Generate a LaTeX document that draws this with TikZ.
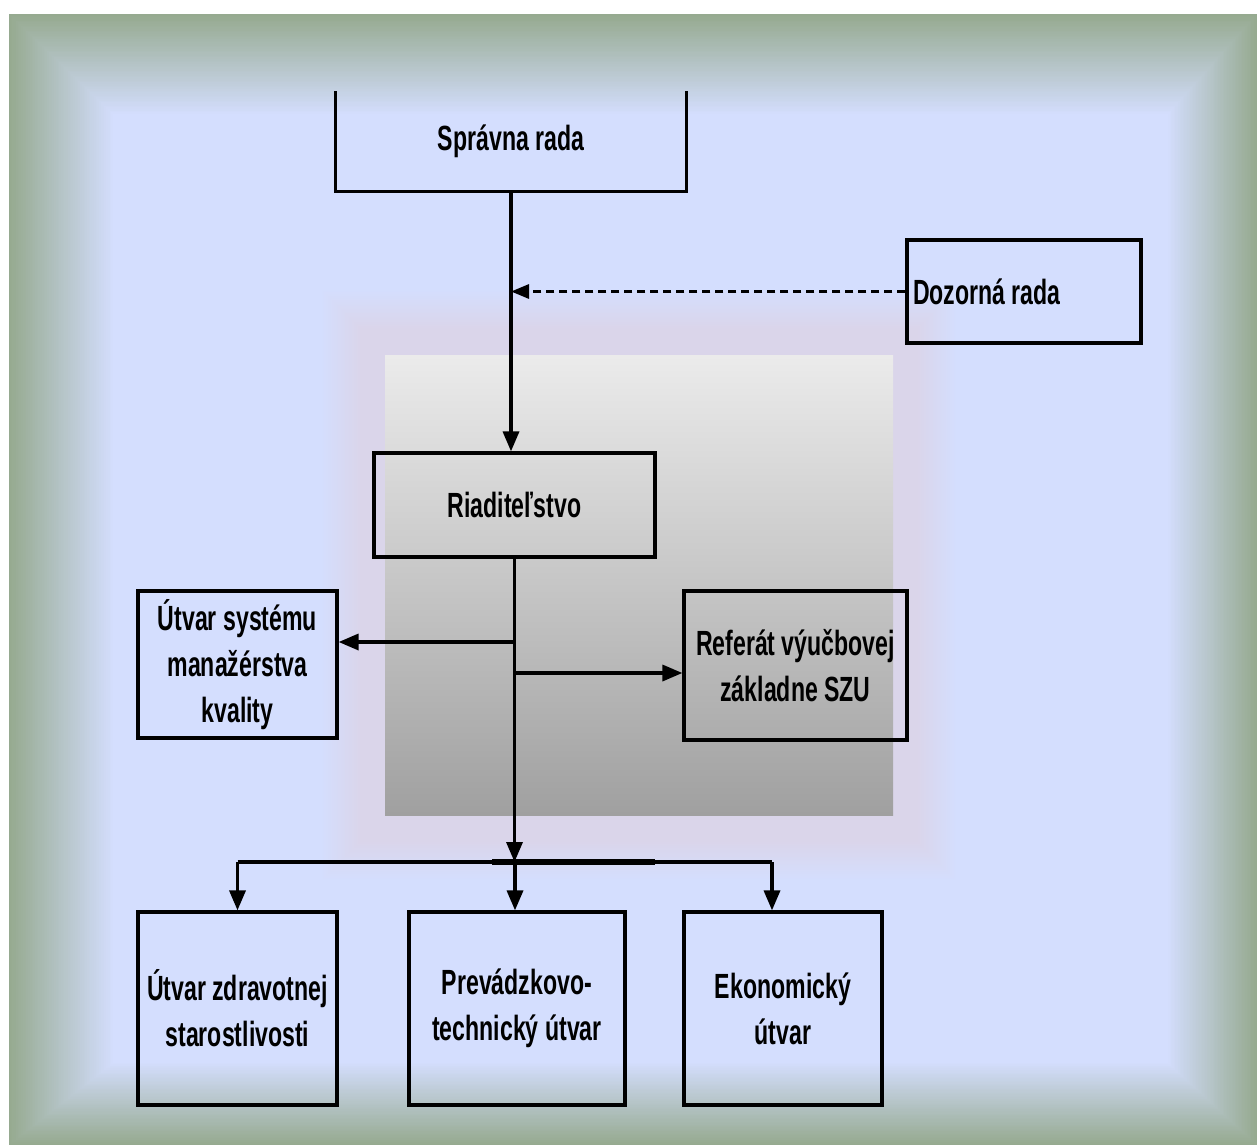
\documentclass[tikz,border=0pt]{standalone}
\usepackage{fontspec}
\newfontfamily\lab{Liberation Sans}[FakeStretch=0.66]
\usetikzlibrary{arrows.meta}
\definecolor{frameGreen}{RGB}{150,170,144}
\definecolor{frameLight}{RGB}{212,222,254}
\definecolor{glowLav}{RGB}{218,213,234}
\definecolor{grayTop}{RGB}{235,235,235}
\definecolor{grayBot}{RGB}{160,160,160}
\tikzset{
  unitbox/.style={draw=black, line width=3.2pt, inner sep=2pt, align=center,
    font=\lab\bfseries\fontsize{35}{46}\selectfont},
  conn/.style={line width=3.4pt, draw=black},
  arr/.style={conn, -{Triangle[length=20pt,width=16pt]}},
  dasharr/.style={line width=3pt, dash pattern=on 8pt off 5pt, -{Triangle[length=18pt,width=14pt]}},
}
\begin{document}
\begin{tikzpicture}[x=1pt,y=-1pt]
\useasboundingbox (0,0) rectangle (1257,1145);
\fill[white] (0,0) rectangle (1257,1145);
% outer frame gradient
\foreach \i in {0,...,60} {
  \pgfmathsetmacro\t{\i/60}
  \pgfmathtruncatemacro\p{100*\t}
  \fill[frameLight!\p!frameGreen] ({9+104*\t},{14+100*\t}) rectangle ({1257-89*\t},{1145-82*\t});
}
% lavender glow
\foreach \i in {0,...,40} {
  \pgfmathsetmacro\t{\i/40}
  \pgfmathtruncatemacro\p{100*\t}
  \fill[glowLav!\p!frameLight] ({320+40*\t},{288+40*\t}) rectangle ({958-40*\t},{882-40*\t});
}
% gray panel
\shade[top color=grayTop, bottom color=grayBot] (385,355) rectangle (893,815);

% nodes
\node[unitbox, draw=none, minimum width=348pt, minimum height=97pt] (sr) at (511,141.5) {Správna rada};
\draw[line width=3.2pt] (sr.north west) -- (sr.south west) -- (sr.south east) -- (sr.north east);
\node[unitbox, minimum width=234pt, minimum height=103pt, text width=222pt, inner xsep=6pt, align=flush left] (dr) at (1024,291.5) {Dozorná rada};
\node[unitbox, minimum width=281pt, minimum height=104pt] (ria) at (514.5,505) {Riaditeľstvo};
\node[unitbox, minimum width=199pt, minimum height=147pt] (usmk) at (237.5,664.5) {Útvar systému\\manažérstva\\kvality};
\node[unitbox, minimum width=223pt, minimum height=149pt] (ref) at (795.5,665.5) {Referát výučbovej\\základne SZU};
\node[unitbox, minimum width=199pt, minimum height=193pt] (uzs) at (237.5,1008.5) {Útvar zdravotnej\\starostlivosti};
\node[unitbox, minimum width=216pt, minimum height=193pt] (pt) at (517,1008.5) {Prevádzkovo-\\technický útvar};
\node[unitbox, minimum width=198pt, minimum height=193pt] (eu) at (783,1008.5) {Ekonomický\\útvar};

% connectors
\draw[arr] (sr.south) -- (sr.south |- ria.north);
\draw[dasharr] (dr.west) -- (dr.west -| sr.south);
\coordinate (jl) at (515,642);
\coordinate (jr) at (515,673);
\coordinate (bar) at (515,862);
\coordinate (barR) at (772,862);
\coordinate (thickL) at (492,862);
\coordinate (thickR) at (655,862);
\draw[arr] (ria.south) -- (ria.south |- bar);
\draw[arr] (jl) -- (jl -| usmk.east);
\draw[arr] (jr) -- (jr -| ref.west);
\draw[conn] (bar -| uzs.north) -- (barR);
\draw[line width=6pt] (thickL) -- (thickR);
\draw[arr] (bar -| uzs.north) -- (uzs.north);
\draw[arr] (bar) -- (bar |- pt.north);
\draw[arr] (barR) -- (barR |- eu.north);
\end{tikzpicture}
\end{document}
